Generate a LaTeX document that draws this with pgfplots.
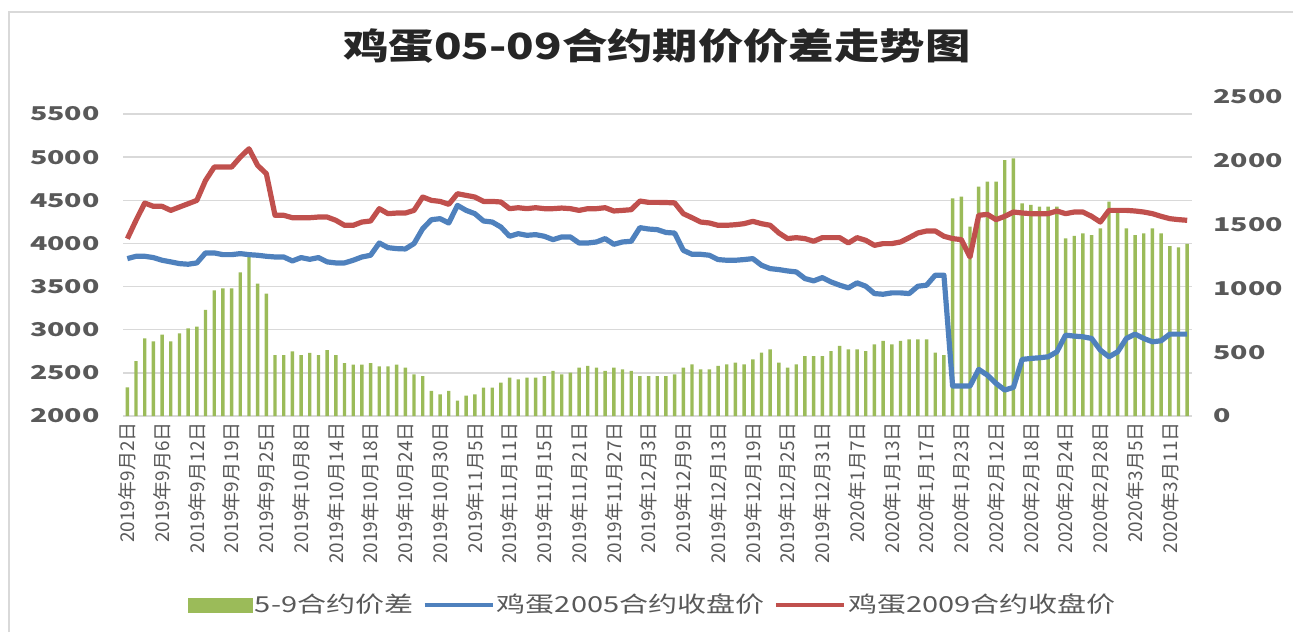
\documentclass[border=0pt]{standalone}
\usepackage{graphicx}
\usepackage{pgfplots}
\pgfplotsset{compat=1.18}
\usepackage{pgfplotstable}
\usepackage{fontspec}
\setmainfont{Noto Sans CJK SC}
\definecolor{barG}{HTML}{9BBB59}
\definecolor{lineB}{HTML}{4F81BD}
\definecolor{lineR}{HTML}{C0504D}
\definecolor{gridC}{HTML}{D9D9D9}
\definecolor{txt}{HTML}{595959}
\pgfplotstableread{
i spread p05 p09
0 225 3824 4055
1 431 3851 4268
2 609 3851 4468
3 585 3836 4430
4 637 3805 4430
5 585 3786 4383
6 648 3766 4422
7 687 3759 4460
8 700 3774 4499
9 831 3890 4730
10 985 3890 4885
11 1000 3870 4885
12 1000 3870 4885
13 1126 3882 5000
14 1249 3870 5097
15 1037 3863 4904
16 959 3851 4808
17 478 3843 4326
18 478 3843 4326
19 507 3797 4298
20 478 3836 4298
21 494 3816 4298
22 478 3836 4306
23 517 3786 4306
24 478 3774 4268
25 415 3774 4210
26 402 3805 4210
27 402 3843 4248
28 415 3863 4260
29 389 4005 4403
30 389 3951 4345
31 402 3940 4352
32 379 3936 4352
33 327 3998 4383
34 313 4171 4538
35 196 4275 4499
36 170 4287 4487
37 196 4237 4453
38 120 4441 4576
39 159 4383 4557
40 170 4345 4538
41 222 4260 4487
42 222 4248 4487
43 261 4190 4480
44 300 4083 4403
45 287 4113 4414
46 300 4094 4403
47 300 4102 4414
48 313 4083 4403
49 353 4044 4403
50 327 4075 4410
51 340 4075 4403
52 379 4005 4383
53 392 4005 4403
54 379 4017 4403
55 353 4056 4414
56 379 3990 4376
57 366 4017 4383
58 353 4025 4391
59 313 4183 4491
60 313 4167 4476
61 313 4160 4476
62 313 4127 4474
63 327 4120 4470
64 379 3920 4345
65 405 3874 4298
66 366 3874 4248
67 366 3863 4237
68 392 3813 4210
69 405 3805 4210
70 418 3805 4217
71 405 3813 4229
72 444 3824 4256
73 496 3747 4229
74 522 3708 4210
75 418 3697 4121
76 379 3681 4056
77 405 3670 4067
78 470 3593 4056
79 470 3566 4025
80 470 3604 4067
81 509 3554 4067
82 549 3516 4067
83 522 3485 4005
84 522 3543 4067
85 509 3504 4036
86 562 3419 3978
87 588 3411 3998
88 562 3427 3998
89 588 3427 4017
90 601 3419 4067
91 601 3504 4121
92 601 3516 4144
93 496 3632 4144
94 478 3632 4083
95 1706 2347 4056
96 1719 2347 4044
97 1484 2347 3843
98 1797 2540 4326
99 1836 2474 4337
100 1836 2378 4276
101 2006 2301 4314
102 2019 2332 4364
103 1667 2656 4353
104 1654 2667 4345
105 1641 2675 4345
106 1641 2686 4345
107 1641 2744 4376
108 1392 2937 4345
109 1411 2926 4364
110 1432 2918 4364
111 1418 2899 4314
112 1471 2764 4248
113 1680 2686 4383
114 1601 2744 4383
115 1471 2899 4383
116 1418 2949 4376
117 1432 2899 4364
118 1471 2860 4345
119 1432 2872 4314
120 1332 2949 4287
121 1322 2949 4276
122 1348 2949 4268
}\datatab
\pgfplotsset{
  /pgf/number format/1000 sep={},
  base/.style={
    scale only axis, width=534.25pt, height=159.5pt,
    at={(61.5pt,108pt)}, anchor=south west,
    xmin=-0.5, xmax=122.5, major tick length=0pt,
  },
}
\begin{document}
\begin{tikzpicture}[x=1pt,y=1pt]
\path[use as bounding box] (0,0) rectangle (646.5,316);
\draw[gridC, line width=0.7pt] (4.5,0) -- (4.5,310) -- (646.5,310);
\node[font=\bfseries\fontsize{18}{20}\selectfont, text=black!85] at (328.5,293)
  {\scalebox{1.26}[1]{鸡蛋05-09合约期价价差走势图}};
% axis 1: grid, left ticks, x labels
\begin{axis}[base,
  ymin=2000, ymax=5697, ytick={2000,2500,...,5500},
  ymajorgrids, grid style={gridC, line width=0.75pt},
  axis line style={draw=none},
  xtick={0,4,...,120},
  xticklabels={2019年9月2日,2019年9月6日,2019年9月12日,2019年9月19日,2019年9月25日,2019年10月8日,2019年10月14日,2019年10月18日,2019年10月24日,2019年10月30日,2019年11月5日,2019年11月11日,2019年11月15日,2019年11月21日,2019年11月27日,2019年12月3日,2019年12月9日,2019年12月13日,2019年12月19日,2019年12月25日,2019年12月31日,2020年1月7日,2020年1月13日,2020年1月17日,2020年1月23日,2020年2月12日,2020年2月18日,2020年2月24日,2020年2月28日,2020年3月5日,2020年3月11日},
  xticklabel style={rotate=90, anchor=east, inner sep=0pt, font=\fontsize{9.5}{10}\selectfont, text=txt},
  xticklabel shift=3pt,
  yticklabel={\scalebox{1.5}[1]{\pgfmathprintnumber[assume math mode=true]{\tick}}},
  yticklabel style={anchor=east, inner sep=0pt, font=\bfseries\fontsize{9.5}{10}\selectfont, text=txt},
  yticklabel shift=11.5pt,
]
\addplot[draw=none] coordinates {(0,2000)};
\end{axis}
% axis 2: bars, right ticks
\begin{axis}[base,
  ymin=0, ymax=2500, ytick={0,500,...,2500},
  axis y line*=right, hide x axis, axis line style={draw=none},
  yticklabel={\scalebox{1.5}[1]{\pgfmathprintnumber[assume math mode=true]{\tick}}},
  yticklabel style={anchor=west, inner sep=0pt, font=\bfseries\fontsize{9.5}{10}\selectfont, text=txt},
  yticklabel shift=10.75pt,
]
\addplot[ybar, bar width=1.7pt, bar shift=0pt, fill=barG, draw=none] table[x=i,y=spread]{\datatab};
\end{axis}
% axis 3: lines + legend
\begin{axis}[base,
  ymin=2000, ymax=5697, hide axis,
  legend columns=3,
  legend style={at={(0.496,-0.5925)}, anchor=center, draw=none, fill=none,
    font=\fontsize{11}{12}\selectfont, text=txt, inner sep=0pt,
    /tikz/every even column/.append style={column sep=3.5pt},
    nodes={inner sep=1pt}},
]
\addlegendimage{legend image code/.code={\fill[barG] (0pt,-3.5pt) rectangle (32pt,3.5pt);}}
\addplot[lineB, line width=2.6pt, line join=round,
  legend image code/.code={\draw[lineB, line width=2.2pt] (0pt,0pt) -- (34pt,0pt);}]
  table[x=i,y=p05]{\datatab};
\addplot[lineR, line width=2.6pt, line join=round,
  legend image code/.code={\draw[lineR, line width=2.2pt] (0pt,0pt) -- (34pt,0pt);}]
  table[x=i,y=p09]{\datatab};
\legend{\scalebox{1.32}[1]{5-9合约价差},\scalebox{1.32}[1]{鸡蛋2005合约收盘价},\scalebox{1.32}[1]{鸡蛋2009合约收盘价}}
\end{axis}
\end{tikzpicture}
\end{document}
